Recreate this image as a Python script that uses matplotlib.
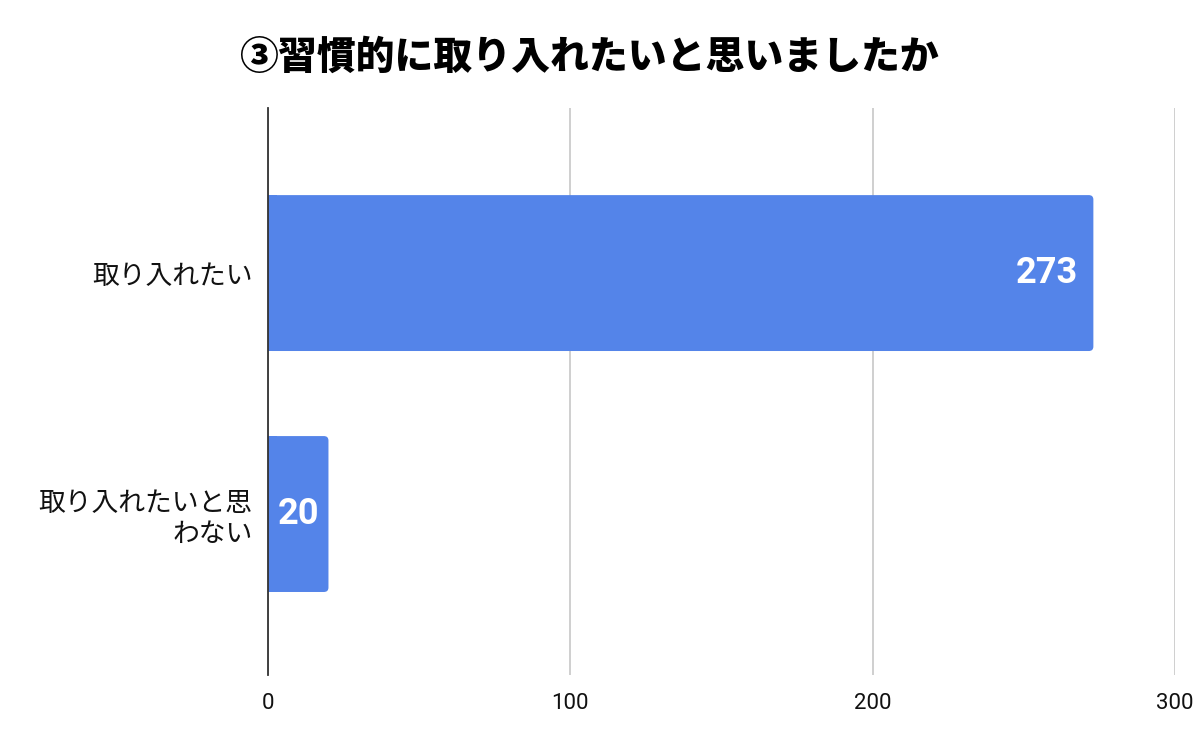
import matplotlib
matplotlib.use("Agg")
import matplotlib.pyplot as plt
from matplotlib.patches import FancyBboxPatch

plt.rcParams['font.family'] = ['Noto Sans CJK JP', 'DejaVu Sans']

title = "③習慣的に取り入れたいと思いましたか"
categories = ["取り入れたい", "取り入れたいと思\nわない"]
values = [273, 20]
xticks = [0, 100, 200, 300]

bar_color = "#5484e9"

fig = plt.figure(figsize=(11.97, 7.33), dpi=100)
ax = fig.add_axes([268/1197, 1-675/733, (1175-268)/1197, (675-108)/733])

ypos = list(range(len(categories)))
bh = 0.647
bars = ax.barh(ypos, values, height=bh, color=bar_color, zorder=3)

# rounded corners on the right side
for b in bars:
    b.set_visible(False)
    x, y = b.get_x(), b.get_y()
    w, h = b.get_width(), b.get_height()
    p = FancyBboxPatch((x, y), w, h,
                       boxstyle="round,pad=0,rounding_size=1.5",
                       mutation_aspect=0.0125,
                       facecolor=bar_color, edgecolor="none", zorder=3)
    ax.add_patch(p)
    ax.add_patch(plt.Rectangle((x, y), min(w, 3), h, facecolor=bar_color,
                               edgecolor="none", zorder=3))

for yp, v in zip(ypos, values):
    ax.annotate(str(v), xy=(v, yp), xytext=(-15 if v > 50 else -9, 0),
                textcoords="offset pixels",
                ha="right", va="center", color="white", fontsize=26,
                fontweight="bold", family=["Roboto", "DejaVu Sans"], zorder=4)

ax.set_xlim(0, 300)
ax.set_ylim(1.668, -0.685)
ax.set_xticks(xticks)
ax.set_xticklabels([str(t) for t in xticks], fontsize=16,
                   family=["Roboto", "DejaVu Sans"], color="#111111")
ax.set_yticks(ypos)
ax.set_yticklabels(categories, fontsize=19.3, color="#111111", linespacing=1.2)
ax.tick_params(axis="both", length=0)
ax.tick_params(axis="x", pad=13)
ax.tick_params(axis="y", pad=11)
for lab in ax.get_yticklabels():
    lab.set_multialignment("right")

ax.xaxis.grid(True, color="#cccccc", linewidth=1.3, zorder=0)
ax.yaxis.grid(False)
for s in ["top", "right", "bottom"]:
    ax.spines[s].set_visible(False)
ax.spines["left"].set_color("#333333")
ax.spines["left"].set_linewidth(1.3)
ax.spines["left"].set_zorder(5)

fig.text(589/1197, 1-57/733, title, ha="center", va="center",
         fontsize=28, fontweight="heavy", color="#000000")

fig.savefig("out.png", dpi=100, facecolor="white")
